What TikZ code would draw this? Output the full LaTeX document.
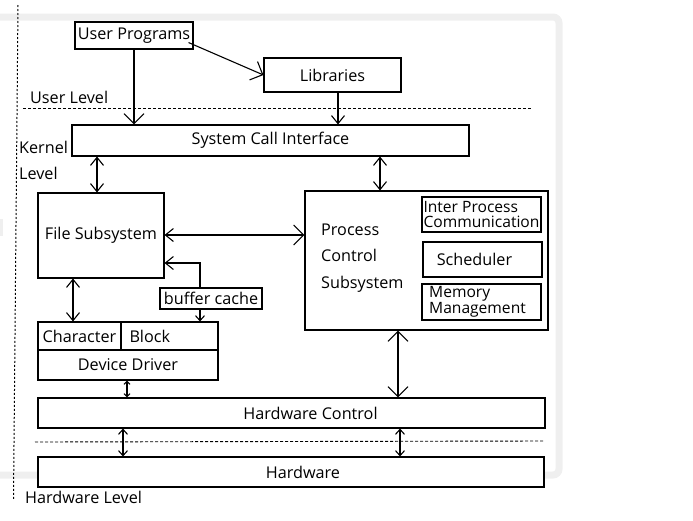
\documentclass[tikz,border=0pt]{standalone}
\usepackage{fontspec}
\setmainfont{Open Sans}
\usetikzlibrary{arrows.meta}
\definecolor{framegray}{RGB}{239,239,239}
\tikzset{
  bigbarb/.tip={Straight Barb[length=10pt,width=20pt]},
  midbarb/.tip={Straight Barb[length=8pt,width=13pt]},
  smallbarb/.tip={Straight Barb[length=5pt,width=9pt]},
  tinybarb/.tip={Straight Barb[length=3pt,width=6pt]},
  box/.style={draw, line width=1.1pt, fill=white, inner sep=0pt, align=center},
  txt/.style={inner sep=0pt, anchor=west},
  conn/.style={line width=1.1pt},
  lvl/.style={line width=0.9pt, dash pattern=on 3pt off 2pt},
  every node/.style={font=\fontsize{16.2}{18}\selectfont}
}
\begin{document}
\begin{tikzpicture}[x=1pt,y=-1pt]
\useasboundingbox (0,0) rectangle (693,520);
% background frame of the screenshot
\draw[framegray, line width=7pt, rounded corners=6pt] (-10,17) -- (559,17) -- (559,475) -- (-10,475);
\fill[framegray] (0,219) rectangle (2.5,236);
% left dotted guide
\coordinate (g1) at (18,5);
\coordinate (g2) at (13.5,500);
\draw[line width=1pt, dash pattern=on 2pt off 2pt] (g1) -- (g2);
% level separators
\coordinate (u1) at (23,108);
\coordinate (u2) at (532,108);
\draw[lvl] (u1) -- (u2);
\coordinate (h1) at (35,442);
\coordinate (h2) at (543,441);
\draw[lvl] (h1) -- (h2);
% level labels
\node[txt] (userlvl) at (30,97) {User Level};
\node[txt] (kern) at (19,147) {Kernel};
\node[txt] (kernlvl) at (19,173) {Level};
\node[txt] (hwlvl) at (25,497) {Hardware Level};
% boxes
\node[box, minimum width=118pt, minimum height=27pt] (up) at (134,35.5) {User Programs};
\node[box, minimum width=137pt, minimum height=34pt] (libs) at (332.5,75) {Libraries};
\node[box, minimum width=397pt, minimum height=31pt] (sci) at (270.5,140.5) {System Call Interface};
\node[box, minimum width=126pt, minimum height=85pt] (fs) at (101,235.5) {File Subsystem};
\node[box, minimum width=243pt, minimum height=139pt] (pc) at (426.5,260.5) {};
\node[txt, align=left, font=\fontsize{16.2}{26.5}\selectfont] (pctext) at (321,258) {Process\\Control\\Subsystem};
\node[box, minimum width=119pt, minimum height=35pt, align=left, font=\fontsize{15.6}{15.5}\selectfont] (ipc) at (481.5,214.5) {Inter Process\\Communication};
\node[box, minimum width=119pt, minimum height=35pt] (sched) at (482.5,259.5) {Scheduler\hspace*{16pt}};
\node[box, minimum width=119pt, minimum height=36pt, align=left, font=\fontsize{15.6}{14.5}\selectfont] (mem) at (481.5,302) {Memory\\Management\hspace*{8pt}};
\node[box, minimum width=102pt, minimum height=21pt] (bc) at (211,298.5) {buffer cache};
\node[box, minimum width=83pt, minimum height=28pt] (charcell) at (79.5,336) {Character};
\node[box, minimum width=97pt, minimum height=28pt, text width=80pt, align=left] (blockcell) at (169.5,336) {Block};
\node[box, minimum width=180pt, minimum height=30pt] (drv) at (128,365) {Device Driver};
\node[box, minimum width=507pt, minimum height=30pt] (hwc) at (291.5,413) {\hspace*{38pt}Hardware Control};
\node[box, minimum width=506pt, minimum height=30pt] (hw) at (291,472) {\hspace*{24pt}Hardware};
% connectors
\draw[conn, -bigbarb] ([shift={(-5,-7)}]up.south east) -- (libs.west);
\draw[conn, -bigbarb] (up.south -| 134,0) -- (sci.north -| 134,0);
\draw[conn, -midbarb] (libs.south -| 338,0) -- (sci.north -| 338,0);
\draw[conn, midbarb-midbarb] (sci.south -| 97,0) -- (fs.north -| 97,0);
\draw[conn, midbarb-midbarb] (sci.south -| 380,0) -- (pc.north -| 380,0);
\draw[conn, midbarb-bigbarb] (fs.east |- 0,235) -- (pc.west |- 0,235);
\draw[conn, -midbarb] (bc.north -| 200,0) |- (fs.east |- 0,263);
\draw[conn, -smallbarb] (bc.south -| 200,0) -- (blockcell.north -| 200,0);
\draw[conn, midbarb-midbarb] (fs.south -| 73,0) -- (charcell.north -| 73,0);
\draw[conn, tinybarb-tinybarb] (drv.south -| 127,0) -- (hwc.north -| 127,0);
\draw[conn, bigbarb-bigbarb] (pc.south -| 398,0) -- (hwc.north -| 398,0);
\draw[conn, smallbarb-smallbarb] (hwc.south -| 123,0) -- (hw.north -| 123,0);
\draw[conn, smallbarb-smallbarb] (hwc.south -| 400,0) -- (hw.north -| 400,0);
\end{tikzpicture}
\end{document}
